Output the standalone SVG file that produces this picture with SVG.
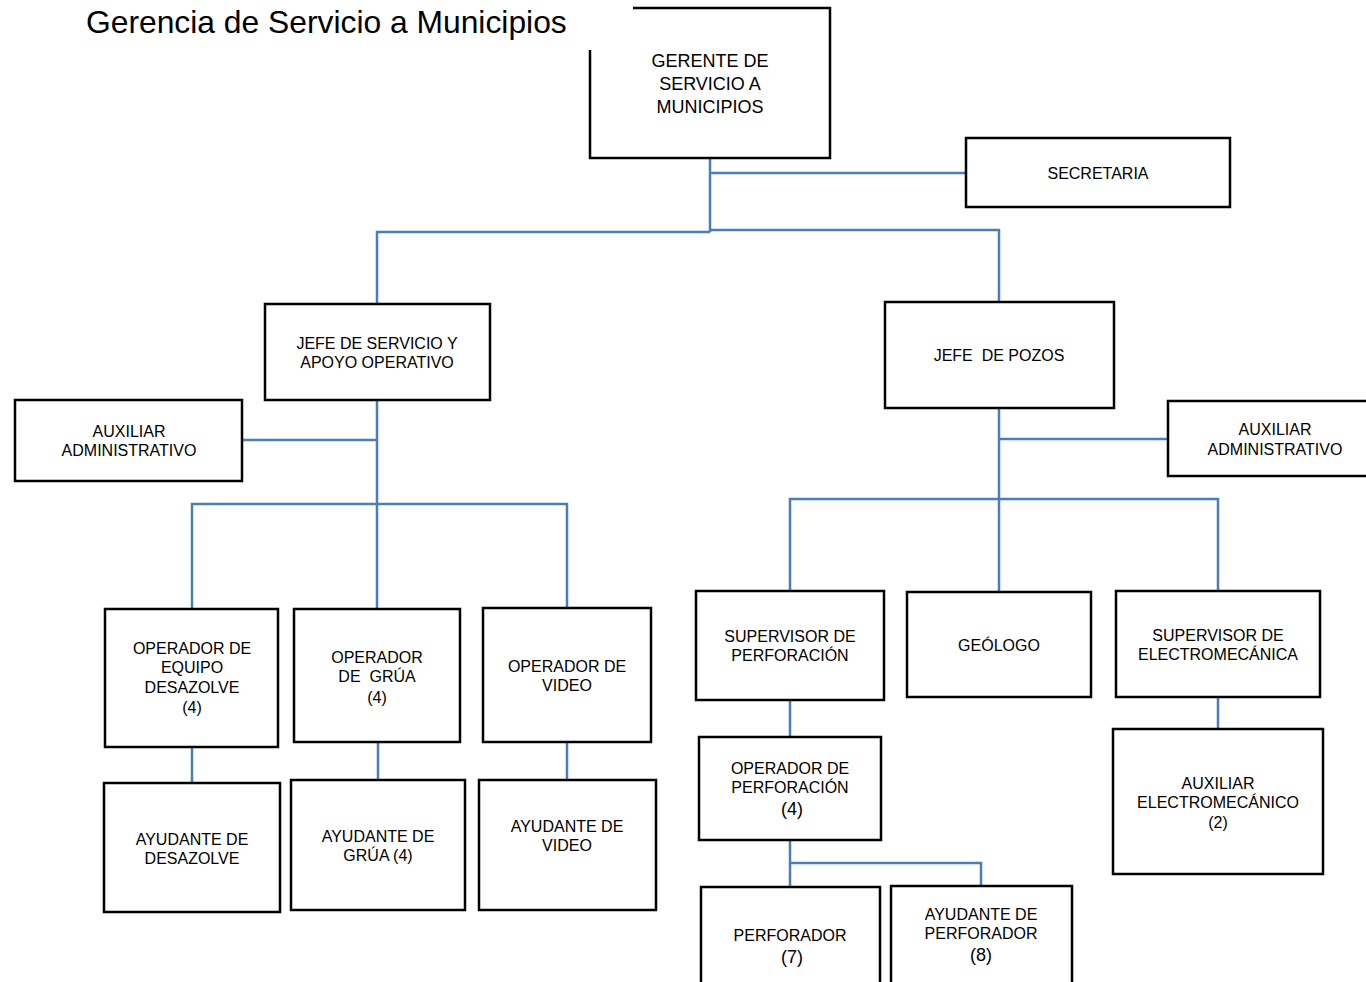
<svg xmlns="http://www.w3.org/2000/svg" width="1366" height="982" viewBox="0 0 1366 982">
<style>
.box{fill:#fff;stroke:#000;stroke-width:2.5}
.c{fill:none;stroke:#4a7ebb;stroke-width:2.5}
text{font-family:"Liberation Sans",Arial,sans-serif;font-size:16px;fill:#000;text-anchor:middle}
.big{font-size:18px}
.title{font-size:31.8px;text-anchor:start}
</style>
<rect width="1366" height="982" fill="#fff"/>
<g id="connectors">
<path class="c" d="M710 158V232M710 173H966M377 304V232H710M710 230H999V302"/>
<path class="c" d="M377 400V609M242 440H377M192 609V504H567V608"/>
<path class="c" d="M999 408V592M999 439H1168M790 591V499H1218V591"/>
<path class="c" d="M192 747V783M378 742V780M567 742V780"/>
<path class="c" d="M790 700V737M1218 697V729"/>
<path class="c" d="M790 840V887M790 863H981V886"/>
</g>
<g id="gerente">
<rect class="box" x="590" y="8" width="240" height="150"/>
<text class="big" x="710" y="67">GERENTE DE</text>
<text class="big" x="710" y="90">SERVICIO A</text>
<text class="big" x="710" y="113">MUNICIPIOS</text>
</g>
<g id="title">
<rect x="80" y="0" width="553" height="50" fill="#fff"/>
<text class="title" x="86" y="33">Gerencia de Servicio a Municipios</text>
</g>
<g id="secretaria">
<rect class="box" x="966" y="138" width="264" height="69"/>
<text x="1098" y="179">SECRETARIA</text>
</g>
<g id="jefe-servicio">
<rect class="box" x="265" y="304" width="225" height="96"/>
<text x="377" y="349">JEFE DE SERVICIO Y</text>
<text x="377" y="368">APOYO OPERATIVO</text>
</g>
<g id="jefe-pozos">
<rect class="box" x="885" y="302" width="229" height="106"/>
<text x="999" y="361" xml:space="preserve">JEFE  DE POZOS</text>
</g>
<g id="aux-admin-1">
<rect class="box" x="15" y="400" width="227" height="81"/>
<text x="129" y="437">AUXILIAR</text>
<text x="129" y="456">ADMINISTRATIVO</text>
</g>
<g id="aux-admin-2">
<rect class="box" x="1168" y="401" width="210" height="75"/>
<text x="1275" y="435">AUXILIAR</text>
<text x="1275" y="455">ADMINISTRATIVO</text>
</g>
<g id="op-desazolve">
<rect class="box" x="105" y="609" width="173" height="138"/>
<text x="192" y="654">OPERADOR DE</text>
<text x="192" y="673">EQUIPO</text>
<text x="192" y="693">DESAZOLVE</text>
<text x="192" y="713">(4)</text>
</g>
<g id="op-grua">
<rect class="box" x="294" y="609" width="166" height="133"/>
<text x="377" y="663">OPERADOR</text>
<text x="377" y="682" xml:space="preserve">DE  GRÚA</text>
<text x="377" y="703">(4)</text>
</g>
<g id="op-video">
<rect class="box" x="483" y="608" width="168" height="134"/>
<text x="567" y="672">OPERADOR DE</text>
<text x="567" y="691">VIDEO</text>
</g>
<g id="ay-desazolve">
<rect class="box" x="104" y="783" width="176" height="129"/>
<text x="192" y="845">AYUDANTE DE</text>
<text x="192" y="864">DESAZOLVE</text>
</g>
<g id="ay-grua">
<rect class="box" x="291" y="780" width="174" height="130"/>
<text x="378" y="842">AYUDANTE DE</text>
<text x="378" y="861">GRÚA (4)</text>
</g>
<g id="ay-video">
<rect class="box" x="479" y="780" width="177" height="130"/>
<text x="567" y="832">AYUDANTE DE</text>
<text x="567" y="851">VIDEO</text>
</g>
<g id="sup-perforacion">
<rect class="box" x="696" y="591" width="188" height="109"/>
<text x="790" y="642">SUPERVISOR DE</text>
<text x="790" y="661">PERFORACIÓN</text>
</g>
<g id="geologo">
<rect class="box" x="907" y="592" width="184" height="105"/>
<text x="999" y="651">GEÓLOGO</text>
</g>
<g id="sup-electro">
<rect class="box" x="1116" y="591" width="204" height="106"/>
<text x="1218" y="641">SUPERVISOR DE</text>
<text x="1218" y="660">ELECTROMECÁNICA</text>
</g>
<g id="op-perforacion">
<rect class="box" x="699" y="737" width="182" height="103"/>
<text x="790" y="774">OPERADOR DE</text>
<text x="790" y="793">PERFORACIÓN</text>
<text class="big" x="792" y="815">(4)</text>
</g>
<g id="aux-electro">
<rect class="box" x="1113" y="729" width="210" height="145"/>
<text x="1218" y="789">AUXILIAR</text>
<text x="1218" y="808">ELECTROMECÁNICO</text>
<text x="1218" y="828">(2)</text>
</g>
<g id="perforador">
<rect class="box" x="701" y="887" width="179" height="110"/>
<text x="790" y="941">PERFORADOR</text>
<text class="big" x="792" y="963">(7)</text>
</g>
<g id="ay-perforador">
<rect class="box" x="891" y="886" width="181" height="110"/>
<text x="981" y="920">AYUDANTE DE</text>
<text x="981" y="939">PERFORADOR</text>
<text class="big" x="981" y="961">(8)</text>
</g>
</svg>
